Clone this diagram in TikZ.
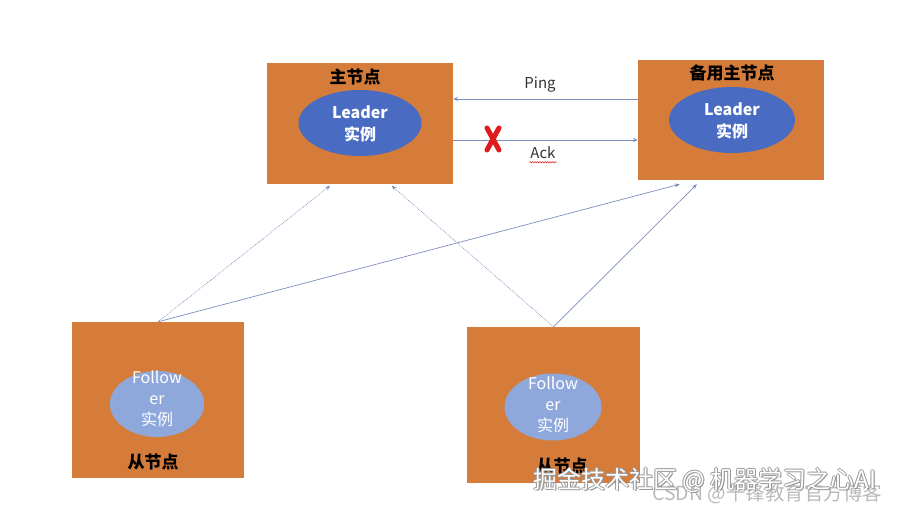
\documentclass[tikz,border=0pt]{standalone}
\usepackage{fontspec}
\setmainfont{Noto Sans CJK SC}
\usetikzlibrary{calc,arrows.meta,shapes.geometric,decorations.pathmorphing}
\definecolor{boxorange}{HTML}{D57C3A}
\definecolor{leaderblue}{HTML}{4A6BC2}
\definecolor{followblue}{HTML}{8FA8DC}
\definecolor{linkcol}{HTML}{7D8CBF}
\definecolor{crossred}{HTML}{E01B1B}
\begin{document}
\begin{tikzpicture}[x=1pt,y=-1pt,
  hostbox/.style={rectangle,fill=boxorange,draw=none,inner sep=0pt},
  leaderell/.style={ellipse,fill=leaderblue,draw=none,inner sep=0pt},
  followell/.style={ellipse,fill=followblue,draw=none,inner sep=0pt},
  leadertext/.style={text=white,align=center,inner sep=0pt,font=\fontsize{16}{22}\selectfont\bfseries},
  followtext/.style={text=white,align=center,inner sep=0pt,font=\fontsize{16}{21}\selectfont},
  titletext/.style={text=black,inner sep=0pt,font=\fontsize{17}{20}\selectfont\bfseries},
  msgtext/.style={text=black!80,inner sep=0pt,font=\fontsize{15}{18}\selectfont},
  link/.style={draw=linkcol,line width=0.7pt,-{Stealth[length=5pt,width=4pt]}},
  dotlink/.style={link,densely dotted},
  wmshadow/.style={text=gray!80,inner sep=0pt,anchor=west,font=\fontsize{24}{26}\selectfont},
  wmtext/.style={text=white,inner sep=0pt,anchor=west,font=\fontsize{24}{26}\selectfont},
  csdntext/.style={text=gray!55,inner sep=0pt,anchor=west,font=\fontsize{19.5}{22}\selectfont}
]
\useasboundingbox (0,0) rectangle (898,512);

% host boxes
\node[hostbox,minimum width=186pt,minimum height=121pt] (main) at (360,123) {};
\node[hostbox,minimum width=186pt,minimum height=120pt] (backup) at (731,120) {};
\node[hostbox,minimum width=172pt,minimum height=156pt] (f1) at (158,400) {};
\node[hostbox,minimum width=173pt,minimum height=156pt] (f2) at (553.5,405) {};

% instances
\node[leaderell,minimum width=123pt,minimum height=66pt] (mainell) at (360,123) {};
\node[leadertext] (maintxt) at (360,124) {Leader\\实例};
\node[leaderell,minimum width=126pt,minimum height=66pt] (backupell) at (732,120) {};
\node[leadertext] (backuptxt) at (732,121) {Leader\\实例};
\node[followell,minimum width=94pt,minimum height=66pt] (f1ell) at (157,404) {};
\node[followtext] (f1txt) at (157,399) {Follow\\er\\实例};
\node[followell,minimum width=97pt,minimum height=67pt] (f2ell) at (553,407) {};
\node[followtext] (f2txt) at (553,405) {Follow\\er\\实例};

% titles
\node[titletext] (maintitle) at (355,77) {主节点};
\node[titletext] (backuptitle) at (732,73) {备用主节点};
\node[titletext] (f1title) at (153,462) {从节点};
\node[titletext] (f2title) at (562,466) {从节点};

% ping / ack
\coordinate (pingy) at (0,99);
\coordinate (acky) at (0,140);
\draw[link] (backup.west |- pingy) -- (main.east |- pingy);
\draw[link] (main.east |- acky) -- (backup.west |- acky);
\node[msgtext] (ping) at (540,85) {Ping};
\node[msgtext] (ack) at (543,153) {Ack};
\draw[crossred,line width=0.5pt,decorate,decoration={snake,amplitude=0.7pt,segment length=2.5pt}]
  ($(ack.south west)+(-1,3)$) -- ($(ack.south east)+(1,3)$);

% red cross
\coordinate (xc) at (493,139);
\draw[crossred,line width=5pt,line cap=round] ($(xc)+(-6,-11)$) -- ($(xc)+(6,11)$);
\draw[crossred,line width=5pt,line cap=round] ($(xc)+(6,-11)$) -- ($(xc)+(-6,11)$);

% follower links
\draw[dotlink] (f1.north) -- ($(main.south west)!0.34!(main.south east)+(0,2)$);
\draw[link] (f1.north) -- ($(backup.south west)!0.225!(backup.south east)+(0,4)$);
\draw[dotlink] (f2.north) -- ($(main.south west)!0.67!(main.south east)+(0,2)$);
\draw[link] (f2.north) -- ($(backup.south west)!0.317!(backup.south east)+(0,4)$);

% watermarks
\node[csdntext] (csdn) at (652,494) {CSDN @千锋教育官方博客};
\foreach \dx/\dy in {-0.8/0,0.8/0,0/-0.8,0/0.8,1.2/1.2}{
  \node[wmshadow] at (533+\dx,480+\dy) {掘金技术社区 @ 机器学习之心AI};
}
\node[wmtext] (wm) at (533,480) {掘金技术社区 @ 机器学习之心AI};
\end{tikzpicture}
\end{document}
